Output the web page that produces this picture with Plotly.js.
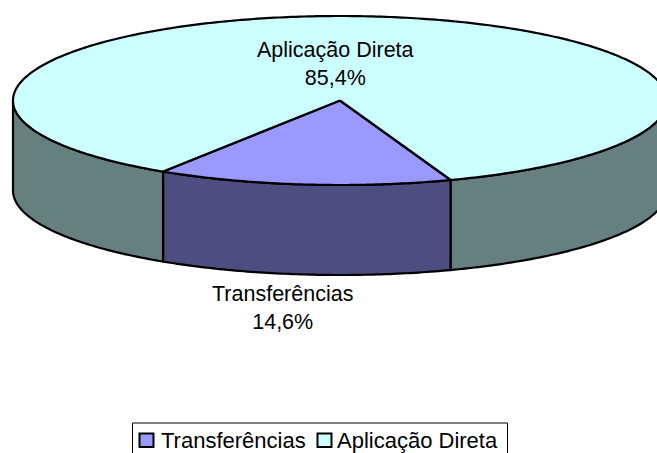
<!DOCTYPE html>
<html><head><meta charset="utf-8">
<script src="https://cdn.plot.ly/plotly-3.0.1.min.js"></script>
<style>html,body{margin:0;padding:0;background:#fff;overflow:hidden}#c{width:657px;height:453px}</style>
</head><body><div id="c"></div>
<script>
const categories = ['Transferências', 'Aplicação Direta'];
const shares = [14.6, 85.4];
const shareLabels = ['14,6%', '85,4%'];
const topColors = ['#9999FF', '#CCFFFF'];
const sideColors = ['#4D4D80', '#668080'];

const W = 657, H = 453;
const cx = 340, cy = 100.5, rx = 327, ry = 84.5, depth = 90, startDeg = 160.2;

function pt(deg, dy) {
  const a = deg * Math.PI / 180;
  return [cx + rx * Math.sin(a), cy - ry * Math.cos(a) + (dy || 0)];
}
function arc(a0, a1, dy) {
  const n = Math.max(2, Math.ceil(Math.abs(a1 - a0) / 0.75)), out = [];
  for (let i = 0; i <= n; i++) out.push(pt(a0 + (a1 - a0) * i / n, dy));
  return out;
}
const traces = [];
const line = {color: '#000', width: 2.2, simplify: false};
function poly(points, fill, name) {
  traces.push({type: 'scatter', mode: 'lines', x: points.map(p => p[0]), y: points.map(p => p[1]),
    fill: 'toself', fillcolor: fill, line: line, name: name, showlegend: false, hoverinfo: 'skip'});
}
let a = startDeg;
const ranges = shares.map(v => { const r = [a, a + v * 3.6]; a = r[1]; return r; });

// side walls: only the front half (90..270 deg) of each slice is visible
ranges.forEach((r, i) => {
  [[r[0], r[1]], [r[0] - 360, r[1] - 360]].forEach(q => {
    const s = Math.max(q[0], 90), e = Math.min(q[1], 270);
    if (e > s) poly(arc(s, e, 0).concat(arc(e, s, depth), [pt(s, 0)]), sideColors[i], categories[i]);
  });
});
// top faces
ranges.forEach((r, i) => {
  poly([[cx, cy]].concat(arc(r[0], r[1], 0), [[cx, cy]]), topColors[i], categories[i]);
});

// legend box (its lower edge is cut off by the picture, as in the reference)
const legendTextX = [158.5, 335];
const swatchX = [139.5, 317.5];
const shapes = [{type: 'rect', xref: 'x', yref: 'y', x0: 132.5, x1: 507.5, y0: 423, y1: 480,
  line: {color: '#000', width: 1}, fillcolor: '#fff', layer: 'above'}];
swatchX.forEach((x, i) => shapes.push({type: 'rect', xref: 'x', yref: 'y', x0: x, x1: x + 14, y0: 433.5, y1: 447,
  line: {color: '#000', width: 2}, fillcolor: topColors[i], layer: 'above'}));

const layout = {
  width: W, height: H, margin: {l: 0, r: 0, t: 0, b: 0, pad: 0},
  paper_bgcolor: '#fff', plot_bgcolor: '#fff',
  font: {family: '"Liberation Sans", Arial, sans-serif', color: '#000'},
  xaxis: {range: [0, W], visible: false, fixedrange: true},
  yaxis: {range: [H, 0], visible: false, fixedrange: true},
  showlegend: false,
  shapes: shapes,
  annotations: [
    {xref: 'x', yref: 'y', x: 335.5, y: 64, text: categories[1] + '<br>' + shareLabels[1], showarrow: false,
      font: {size: 21.5}, align: 'center'},
    {xref: 'x', yref: 'y', x: 282, y: 308, text: categories[0] + '<br>' + shareLabels[0], showarrow: false,
      font: {size: 21.5}, align: 'center'},
    ...legendTextX.map((x, i) => ({xref: 'x', yref: 'y', x: x, y: 440.5, xanchor: 'left', yanchor: 'middle', text: categories[i],
      showarrow: false, font: {size: 22}, align: 'left'}))
  ]
};
Plotly.newPlot('c', traces, layout, {displayModeBar: false, staticPlot: true});
</script></body></html>
